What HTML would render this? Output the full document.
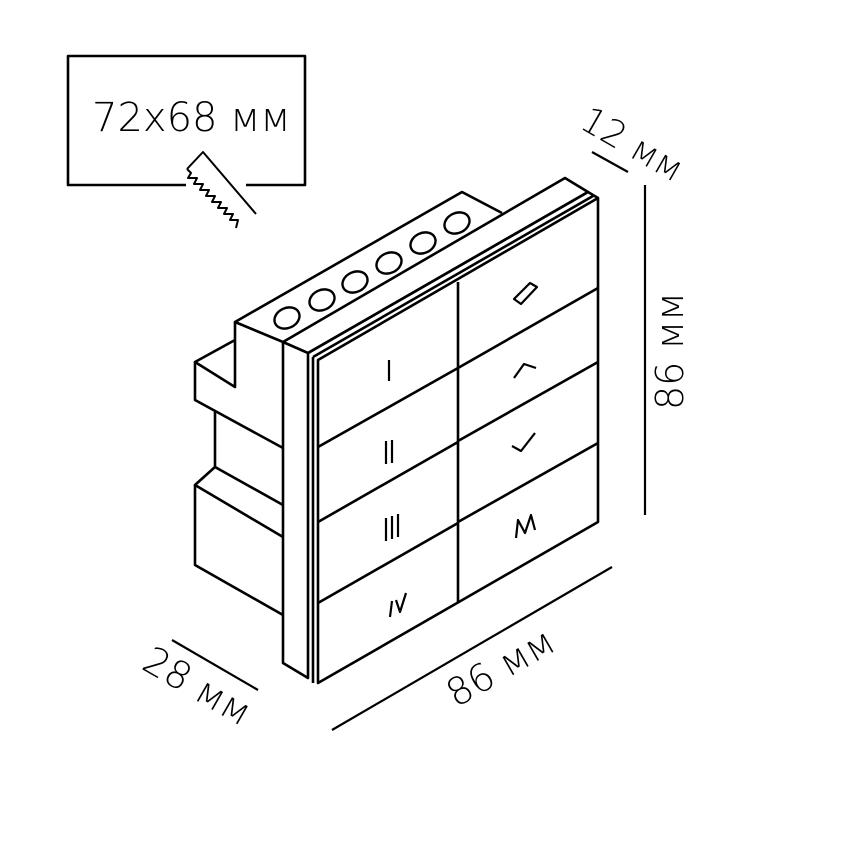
<!DOCTYPE html>
<html><head><meta charset="utf-8"><style>
body{margin:0;background:#fff}
svg{display:block}
text{font-family:"DejaVu Sans","Liberation Sans",sans-serif;font-weight:200;fill:#000}
</style></head><body>
<svg width="850" height="850" viewBox="0 0 850 850" xmlns="http://www.w3.org/2000/svg">
<g fill="none" stroke="#000" stroke-width="2.6" stroke-linejoin="round">
<!-- label box -->
<polyline points="186,185 68,185 68,56 305,56 305,185 246,185"/>
<polyline stroke-width="2" points="187,169 203,152 256,214"/>
<polyline stroke-width="2" points="187,169 191,173 188,178 197,178 194,184 203,184 200,190 209,190 206,196 215,196 212,202 221,202 218,208 227,208 224,214 233,214 230,220 238,220 236,228"/>
<!-- body -->
<polyline points="283,342 235,322 462,192 502,213"/>
<polyline points="235,322 235,387 195,362 235,340"/>
<polyline points="195,362 195,400 283,448"/>
<polyline points="215,412 215,467 283,505"/>
<polyline points="215,467 195,485 283,537"/>
<polyline points="195,485 195,565 283,615"/>
<!-- frame -->
<polygon points="283,342 565,178 588,192 308,353"/>
<polyline points="283,342 283,663 308,678 308,353"/>
<polyline points="308,353 588,192 598,198"/>
<line x1="313" y1="357" x2="313" y2="683"/>
<line x1="313" y1="357" x2="593" y2="196"/>
<!-- front -->
<polygon points="318,360 598,198 598,522 318,683"/>
<line x1="458" y1="282" x2="458" y2="602"/>
<line x1="318" y1="447" x2="458" y2="368"/>
<line x1="318" y1="522" x2="458" y2="442"/>
<line x1="318" y1="603" x2="458" y2="523"/>
<line x1="458" y1="368" x2="598" y2="288"/>
<line x1="458" y1="441" x2="598" y2="362"/>
<line x1="458" y1="522" x2="598" y2="443"/>
<!-- circles -->
<g stroke-width="2.4">
<ellipse cx="287" cy="318" rx="13" ry="10" transform="rotate(-25 287 318)"/>
<ellipse cx="322" cy="300" rx="13" ry="10" transform="rotate(-25 322 300)"/>
<ellipse cx="355" cy="282" rx="13" ry="10" transform="rotate(-25 355 282)"/>
<ellipse cx="389" cy="263" rx="13" ry="10" transform="rotate(-25 389 263)"/>
<ellipse cx="423" cy="243" rx="13" ry="10" transform="rotate(-25 423 243)"/>
<ellipse cx="457" cy="223" rx="13" ry="10" transform="rotate(-25 457 223)"/>
</g>
<!-- symbols -->
<g stroke-width="2.2">
<line x1="389" y1="360" x2="389" y2="381"/>
<line x1="386" y1="441" x2="386" y2="464"/><line x1="392" y1="440" x2="392" y2="463"/>
<line x1="386" y1="518" x2="386" y2="541"/><line x1="392" y1="516" x2="392" y2="539"/><line x1="398" y1="514" x2="398" y2="537"/>
<line x1="392" y1="601" x2="390" y2="617"/><polyline points="396,600 400,612 406,593"/>
<polygon points="514,299 521,304 537,287 530,283"/>
<polyline points="514,378 524,364 536,368"/>
<polyline points="512,446 521,451 535,433"/>
<polyline points="516,538 518,520 525,533 531,515 535,530"/>
<!-- dimensions -->
<line x1="592" y1="152" x2="628" y2="172"/>
<line x1="645" y1="185" x2="645" y2="515"/>
<line x1="332" y1="730" x2="612" y2="567"/>
<line x1="172" y1="640" x2="258" y2="690"/>
</g>
</g>
<text x="92" y="131" font-size="40">72x68 мм</text>
<text transform="translate(578,127) rotate(30)" font-size="36">12 мм</text>
<text transform="translate(683,410) rotate(-90)" font-size="38">86 мм</text>
<text transform="translate(456,708) rotate(-30)" font-size="38">86 мм</text>
<text transform="translate(140,668) rotate(30)" font-size="38">28 мм</text>
</svg>
</body></html>
